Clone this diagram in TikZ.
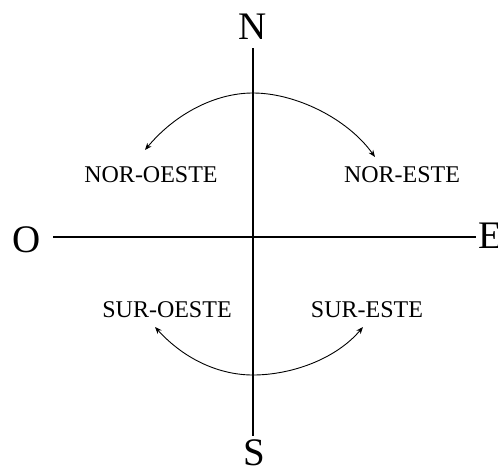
\documentclass[tikz,border=0pt]{standalone}
\usepackage{fontspec}
\setmainfont{Liberation Serif}
\usetikzlibrary{arrows.meta}
\begin{document}
\begin{tikzpicture}[x=1pt,y=-1pt,
  axis/.style={line width=1.3pt,black},
  turn/.style={line width=0.9pt,black,{Stealth[length=7pt,width=5.5pt]}-{Stealth[length=7pt,width=5.5pt]}},
  cardinal/.style={font=\fontsize{39}{39}\selectfont,inner sep=0pt},
  inter/.style={font=\fontsize{24}{24}\selectfont,inner sep=0pt}]
\useasboundingbox (0,0) rectangle (498,474);
% cardinal letters
\node[cardinal] (N) at (253,27) {N};
\node[cardinal] (S) at (254,453) {S};
\node[cardinal] (O) at (27,240) {O};
\node[cardinal,anchor=west] (E) at (478,236) {E};
% axes
\coordinate (vt) at (253,48);
\coordinate (vb) at (253,436);
\coordinate (hl) at (53,237);
\coordinate (hr) at (476,237);
\draw[axis] (vt) -- (vb);
\draw[axis] (hl) -- (hr);
% intermediate labels
\node[inter] (NO) at (151,175) {NOR-OESTE};
\node[inter] (NE) at (402,175) {NOR-ESTE};
\node[inter] (SO) at (167,310) {SUR-OESTE};
\node[inter] (SE) at (367,310) {SUR-ESTE};
% arcs
\coordinate (tl) at (145,150);
\coordinate (tp) at (253,93);
\coordinate (tr) at (375,157);
\coordinate (bl) at (155,327);
\coordinate (bp) at (253,375);
\coordinate (br) at (363,327);
\draw[turn] (tl) .. controls (175,114) and (215,93) .. (tp)
                 .. controls (295,93) and (347,118) .. (tr);
\draw[turn] (bl) .. controls (185,360) and (220,375) .. (bp)
                 .. controls (290,375) and (335,360) .. (br);
\end{tikzpicture}
\end{document}
